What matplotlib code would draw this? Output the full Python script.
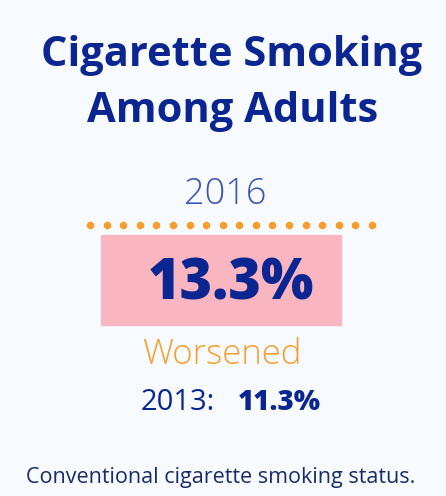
import matplotlib
matplotlib.use("Agg")
import matplotlib.pyplot as plt
import matplotlib.patches as mpatches
import numpy as np

# Indicator data
TITLE_LINES = ["Cigarette Smoking", "Among Adults"]
CURRENT_YEAR = "2016"
CURRENT_VALUE = 13.3
STATUS = "Worsened"
PRIOR_YEAR = "2013"
PRIOR_VALUE = 11.3
FOOTNOTE = "Conventional cigarette smoking status."

BG = "#f7fbff"
NAVY = "#0b2591"
ORANGE = "#f79d2e"
PINK = "#f9b6c0"

plt.rcParams["font.family"] = ["Open Sans", "DejaVu Sans"]

fig = plt.figure(figsize=(4.46, 4.96), dpi=100)
fig.patch.set_facecolor(BG)
ax = fig.add_axes([0, 0, 1, 1])
ax.set_facecolor(BG)
ax.set_xlim(0, 446)
ax.set_ylim(496, 0)
ax.axis("off")

# Title
ax.text(232, 55, TITLE_LINES[0], ha="center", va="center", fontsize=30,
        fontweight="bold", color=NAVY)
ax.text(233, 112, TITLE_LINES[1], ha="center", va="center", fontsize=30,
        fontweight="bold", color=NAVY)

# Year of current value
ax.text(225, 195, CURRENT_YEAR, ha="center", va="center", fontsize=26,
        fontweight="light", color="#3e55b5")

# Orange dotted rule
n_dots = 18
ax.scatter(np.linspace(90, 372, n_dots), np.full(n_dots, 225), s=30,
           color=ORANGE, linewidths=0)

# Highlight box with current value
ax.add_patch(mpatches.Rectangle((101, 235), 240, 90, color=PINK, zorder=1))
ax.text(231, 285, f"{CURRENT_VALUE:.1f}%", ha="center", va="center",
        fontsize=40, fontweight="heavy", color=NAVY, zorder=2)

# Status
ax.text(222, 355, STATUS, ha="center", va="center", fontsize=25,
        fontweight="light", color=ORANGE)

# Prior value
ax.text(215, 403, f"{PRIOR_YEAR}:", ha="right", va="center", fontsize=21,
        color=NAVY)
ax.text(238, 403, f"{PRIOR_VALUE:.1f}%", ha="left", va="center", fontsize=20,
        fontweight="heavy", color=NAVY)

# Footnote
ax.text(221, 477, FOOTNOTE, ha="center", va="center", fontsize=15.5,
        color="#1a2a6c")

plt.savefig("out.png", dpi=100, facecolor=BG)
